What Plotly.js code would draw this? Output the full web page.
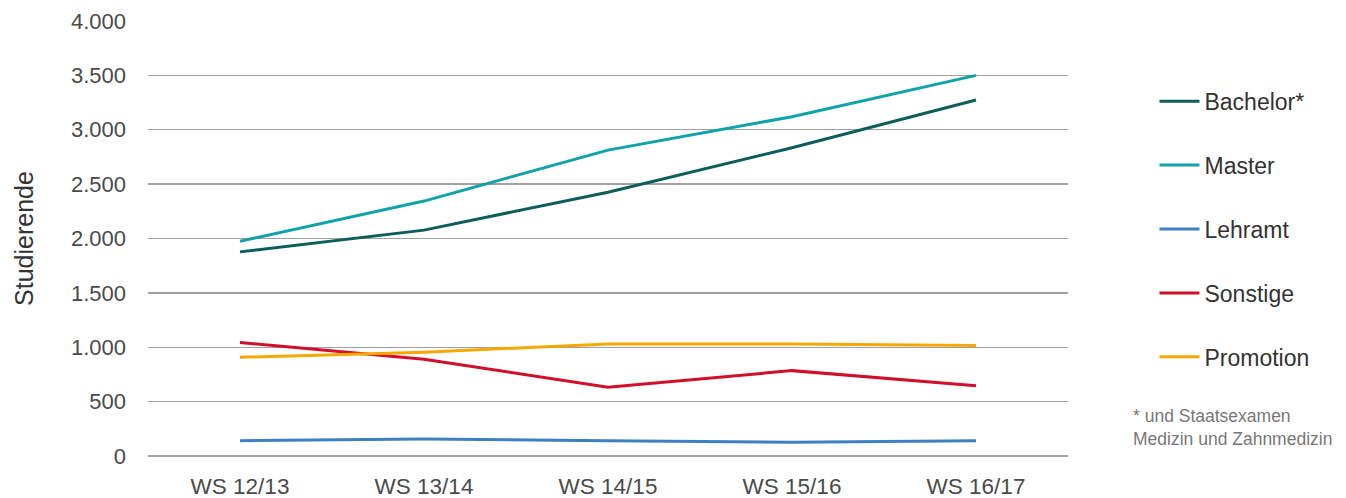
<!DOCTYPE html>
<html><head><meta charset="utf-8">
<script src="https://cdn.plot.ly/plotly-3.0.1.min.js"></script>
<style>body{margin:0;background:#fff}#chart{width:1346px;height:498px}</style>
</head><body><div id="chart"></div>
<script>
const semesters = ["WS 12/13","WS 13/14","WS 14/15","WS 15/16","WS 16/17"];
const bachelor  = [1877, 2077, 2426, 2834, 3273];
const master    = [1975, 2344, 2813, 3120, 3500];
const lehramt   = [141, 156, 141, 126, 141];
const sonstige  = [1043, 890, 632, 785, 647];
const promotion = [908, 954, 1031, 1031, 1015];
const yTicks = [0,500,1000,1500,2000,2500,3000,3500,4000];

const series = [
  {name:"Bachelor*", y:bachelor, color:"#0b5e5c"},
  {name:"Master", y:master, color:"#0ea3a9"},
  {name:"Lehramt", y:lehramt, color:"#3f80c2"},
  {name:"Sonstige", y:sonstige, color:"#d20f2b"},
  {name:"Promotion", y:promotion, color:"#f6a800"}
];
const data = series.map((s,i)=>({
  type:"scatter", mode:"lines", x:semesters, y:s.y, name:s.name,
  legendgroup:"g"+i, line:{color:s.color, width:3}, hoverinfo:"skip"
}));
const font = "Liberation Sans, Arial, sans-serif";
const layout = {
  width:1346, height:498,
  margin:{l:148, r:278, t:21, b:42},
  paper_bgcolor:"#fff", plot_bgcolor:"#fff",
  separators:",.",
  font:{family:font, color:"#4a4a4a", size:22},
  showlegend:true,
  legend:{x:1.094, xanchor:"left", y:0.865, yanchor:"top", tracegroupgap:31,
          font:{size:23, color:"#333", family:font}, itemwidth:40},
  xaxis:{type:"category", range:[-0.5,4.5], showgrid:false, zeroline:false, showline:false,
         ticks:"", tickfont:{size:22.5, color:"#4a4a4a"}, ticklabelstandoff:14, fixedrange:true},
  yaxis:{range:[0,4000], tickvals:yTicks, tickformat:",d", showgrid:true, gridcolor:"#a0a0a0",
         gridwidth:1.3, zeroline:true, zerolinecolor:"#a0a0a0", zerolinewidth:1.3, showline:false,
         ticks:"", tickfont:{size:22, color:"#4a4a4a"}, ticklabelstandoff:21,
         title:{text:"Studierende", font:{size:25, color:"#333"}, standoff:30}},
  annotations:[{xref:"paper", yref:"paper", x:1.068, y:0.12, xanchor:"left", yanchor:"top",
    text:"* und Staatsexamen<br>Medizin und Zahnmedizin", showarrow:false, align:"left",
    font:{size:17.5, color:"#777", family:font}}]
};
Plotly.newPlot("chart", data, layout, {staticPlot:true});
</script></body></html>
